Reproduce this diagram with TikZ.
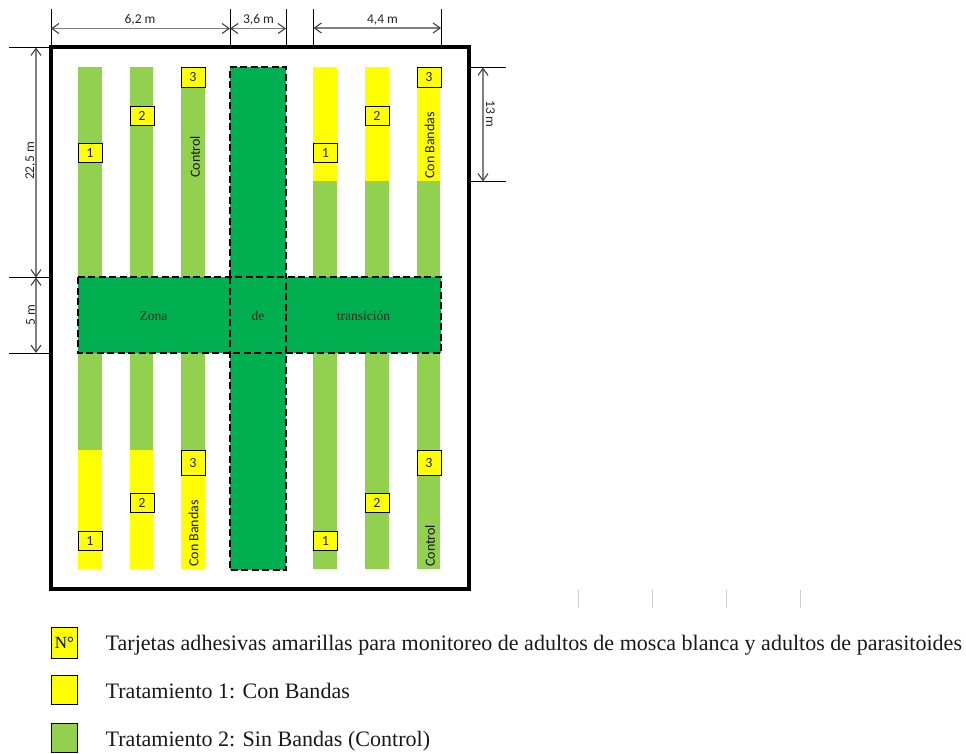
\documentclass[tikz,border=0pt]{standalone}
\usepackage{fontspec}
\setmainfont{Liberation Serif}
\newfontfamily\calfont{Carlito}
\usetikzlibrary{arrows.meta}
\definecolor{lgreen}{HTML}{92D050}
\definecolor{dgreen}{HTML}{00B050}
\definecolor{yel}{HTML}{FFFF00}
\tikzset{
  strip/.style={fill=lgreen,draw=none},
  ystrip/.style={fill=yel,draw=none},
  zone/.style={fill=dgreen,draw=none},
  zoneline/.style={draw=black,line width=2pt,dash pattern=on 7pt off 3.5pt},
  card/.style={draw=black,line width=1pt,fill=yel,minimum width=24pt,minimum height=19pt,inner sep=0pt,font=\calfont\fontsize{14}{14}\selectfont,text=black!85},
  bigcard/.style={card,minimum height=25pt},
  ext/.style={draw=black,line width=0.9pt},
  dim/.style={draw=black!50,line width=1.1pt,{Straight Barb[length=7pt,width=10pt,black!75]}-{Straight Barb[length=7pt,width=10pt,black!75]},shorten >=0pt,shorten <=0pt},
  dimlab/.style={font=\calfont\fontsize{13.5}{13.5}\selectfont,text=black!85,inner sep=0pt},
  striplab/.style={font=\calfont\fontsize{14}{14}\selectfont,text=black!90,inner sep=0pt,rotate=90,anchor=west},
  zonelab/.style={font=\fontsize{13.5}{13.5}\selectfont,text=black!85,inner sep=0pt},
  legbox/.style={draw=black,line width=1pt,minimum width=26pt,inner sep=0pt},
  legtext/.style={anchor=base west,inner sep=0pt,font=\fontsize{22.05}{22.05}\selectfont,text=black!90},
  tick/.style={draw=black!20,line width=1pt}
}
\begin{document}
\begin{tikzpicture}[x=1pt,y=-1pt]
\useasboundingbox (0,0) rectangle (966,753);
% field strips
\foreach \xa/\xb in {78/102,130/153,181/205,313/337,365/389,417/440}{
  \path[strip] (\xa,67) rectangle (\xb,569);
}
\foreach \xa/\xb in {313/337,365/389,417/440}{
  \path[ystrip] (\xa,67) rectangle (\xb,181);
}
\foreach \xa/\xb in {78/102,130/153,181/205}{
  \path[ystrip] (\xa,450) rectangle (\xb,569);
}
% transition zone
\path[zone] (229.5,67) rectangle (286,570);
\path[zone] (78,277) rectangle (441,353);
\draw[zoneline] (229.5,277) -- (229.5,67) -- (286,67) -- (286,277);
\draw[zoneline] (78,277) rectangle (441,353);
\draw[zoneline] (229.5,277) -- (229.5,570) -- (286,570) -- (286,277);
\node[zonelab] (zona) at (153.5,316) {Zona};
\node[zonelab] (de) at (258,316) {de};
\node[zonelab] (trans) at (363.5,316) {transición};
% frame
\draw[line width=3.2pt,black] (51,47) rectangle (469,589);
% cards
\node[card] (a1) at (90,152.5) {1};
\node[card] (a2) at (142,115.5) {2};
\node[card,minimum height=20pt] (a3) at (193,77.5) {3};
\node[card] (b1) at (325.5,152.5) {1};
\node[card] (b2) at (377,115.5) {2};
\node[card,minimum height=20pt] (b3) at (429,77.5) {3};
\node[card] (c1) at (90,541) {1};
\node[card] (c2) at (142,502.5) {2};
\node[bigcard] (c3) at (193,462.5) {3};
\node[card] (d1) at (325.5,541) {1};
\node[card] (d2) at (377,502.5) {2};
\node[bigcard] (d3) at (429,462.5) {3};
\node[striplab] (l1) at (195,178) {Control};
\node[striplab] (l2) at (429.5,179) {Con Bandas};
\node[striplab] (l3) at (193.5,567) {Con Bandas};
\node[striplab] (l4) at (430,567) {Control};
% dimensions
\coordinate (t1) at (51,9); \coordinate (t1b) at (51,46);
\coordinate (t2) at (230,9); \coordinate (t2b) at (230,46);
\coordinate (t3) at (286,9); \coordinate (t3b) at (286,46);
\coordinate (t4) at (313.5,9); \coordinate (t4b) at (313.5,46);
\coordinate (t5) at (441,9); \coordinate (t5b) at (441,46);
\foreach \a in {t1,t2,t3,t4,t5}{\draw[ext] (\a) -- (\a b);}
\coordinate (h1) at (51,28.5); \coordinate (h2) at (230,28.5);
\coordinate (h3) at (286,28.5); \coordinate (h4) at (313.5,28);
\coordinate (h5) at (441,28);
\draw[dim] (h1) -- (h2);
\draw[dim] (h2) -- (h3);
\draw[dim] (h4) -- (h5);
\node[dimlab] (d62) at (140,20) {6,2 m};
\node[dimlab] (d36) at (258.5,20) {3,6 m};
\node[dimlab] (d44) at (382.5,20) {4,4 m};
\coordinate (s1) at (9,47); \coordinate (s1b) at (50,47);
\coordinate (s2) at (9,277.5); \coordinate (s2b) at (50,277.5);
\coordinate (s3) at (9,353); \coordinate (s3b) at (50,353);
\foreach \a in {s1,s2,s3}{\draw[ext] (\a) -- (\a b);}
\coordinate (v1) at (36,47.5); \coordinate (v2) at (36,277.5); \coordinate (v3) at (36,353);
\draw[dim] (v1) -- (v2);
\draw[dim] (v2) -- (v3);
\node[dimlab,rotate=90] (d225) at (30.5,161) {22,5 m};
\node[dimlab,rotate=90] (d5) at (30.5,315) {5 m};
\coordinate (r1) at (470,67.5); \coordinate (r1b) at (506,67.5);
\coordinate (r2) at (470,181.5); \coordinate (r2b) at (506,181.5);
\draw[ext] (r1) -- (r1b);
\draw[ext] (r2) -- (r2b);
\coordinate (w1) at (483,67.5); \coordinate (w2) at (483,181.5);
\draw[dim] (w1) -- (w2);
\node[dimlab,rotate=-90] (d13) at (490.5,114) {13 m};
% ticks
\foreach \x in {578,652,726,800}{\draw[tick] (\x,590) -- (\x,608);}
% legend
\node[legbox,fill=yel,minimum height=31pt,font=\fontsize{17}{17}\selectfont] (k1) at (64.5,642.5) {N°};
\node[legbox,fill=yel,minimum height=29pt] (k2) at (64.5,689.5) {};
\node[legbox,fill=lgreen,minimum height=29pt] (k3) at (64.5,737.5) {};
\node[legtext] (k1t) at (105.5,650) {Tarjetas adhesivas amarillas para monitoreo de adultos de mosca blanca y adultos de parasitoides};
\node[legtext] (k2t) at (105.5,698) {Tratamiento 1: Con Bandas};
\node[legtext] (k3t) at (105.5,746) {Tratamiento 2: Sin Bandas (Control)};
\end{tikzpicture}
\end{document}
